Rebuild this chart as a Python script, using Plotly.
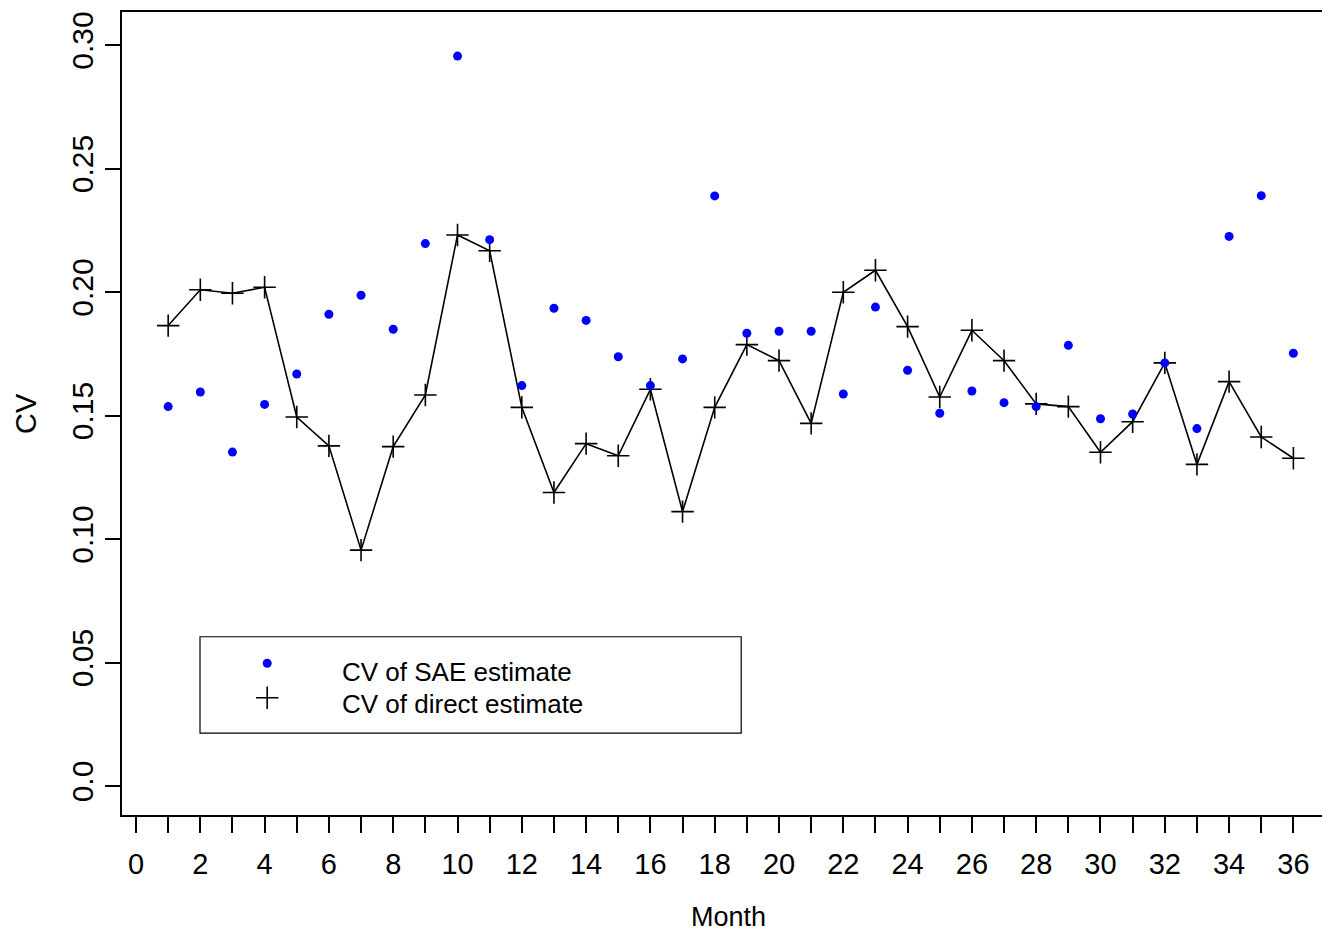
import plotly.graph_objects as go

# Monthly coefficient of variation for the two estimators
months = list(range(1, 37))
sae_cv = [0.1536, 0.1595, 0.1352, 0.1545, 0.1668, 0.1910, 0.1987, 0.1849, 0.2196, 0.2955,
          0.2212, 0.1621, 0.1934, 0.1885, 0.1738, 0.1621, 0.1729, 0.2389, 0.1833, 0.1841,
          0.1841, 0.1587, 0.1939, 0.1683, 0.1509, 0.1599, 0.1552, 0.1536, 0.1784, 0.1487,
          0.1506, 0.1713, 0.1447, 0.2225, 0.2390, 0.1752]
direct_cv = [0.1864, 0.2009, 0.1995, 0.2019, 0.1494, 0.1377, 0.0955, 0.1374, 0.1583, 0.2231,
             0.2167, 0.1533, 0.1188, 0.1386, 0.1337, 0.1606, 0.1111, 0.1533, 0.1787, 0.1722,
             0.1468, 0.1999, 0.2088, 0.1860, 0.1575, 0.1845, 0.1722, 0.1547, 0.1536, 0.1351,
             0.1475, 0.1713, 0.1302, 0.1637, 0.1413, 0.1327]

x_ticks = list(range(0, 37))
x_ticktext = [str(v) if v % 2 == 0 else "" for v in x_ticks]
y_ticks = [0.0, 0.05, 0.10, 0.15, 0.20, 0.25, 0.30]
y_ticktext = ["0.0", "0.05", "0.10", "0.15", "0.20", "0.25", "0.30"]
legend_labels = ["CV of SAE estimate", "CV of direct estimate"]
x_title = "Month"
y_title = "CV"

FONT = "Liberation Sans, Arial, sans-serif"
BLUE = "#0000FF"

dot_marker = dict(symbol="circle", size=9, color=BLUE, line=dict(width=0))
cross_marker = dict(symbol="cross-thin", size=16, color="black", line=dict(width=1.6, color="black"))

fig = go.Figure()

fig.add_trace(go.Scatter(
    x=months, y=direct_cv, mode="lines+markers",
    line=dict(color="black", width=1.6),
    marker=cross_marker, name=legend_labels[1], showlegend=False,
))
fig.add_trace(go.Scatter(
    x=months, y=sae_cv, mode="markers",
    marker=dot_marker, name=legend_labels[0], showlegend=False,
))

# Boxed key drawn inside the plot area (overlay axes span the plot area 0..1)
key_x = 0.121
key_y = [0.189, 0.146]
fig.add_trace(go.Scatter(x=[key_x], y=[key_y[0]], mode="markers", marker=dot_marker,
                         xaxis="x2", yaxis="y2", showlegend=False, hoverinfo="skip"))
fig.add_trace(go.Scatter(x=[key_x], y=[key_y[1]], mode="markers", marker=cross_marker,
                         xaxis="x2", yaxis="y2", showlegend=False, hoverinfo="skip"))

fig.add_shape(type="rect", xref="paper", yref="paper",
              x0=0.065, x1=0.516, y0=0.102, y1=0.222,
              line=dict(color="black", width=1.2), fillcolor="rgba(0,0,0,0)")
for label, ty in zip(legend_labels, [0.178, 0.138]):
    fig.add_annotation(x=0.1817, y=ty, xref="paper", yref="paper", text=label,
                       showarrow=False, xanchor="left", yanchor="middle",
                       font=dict(family=FONT, size=26, color="black"))

# Axis titles
fig.add_annotation(x=0.505, y=-0.1482, xref="paper", yref="paper", text=x_title,
                   showarrow=False, xanchor="center", yanchor="bottom",
                   font=dict(family=FONT, size=27, color="black"))
fig.add_annotation(x=-0.0805, y=0.5, xref="paper", yref="paper", text=y_title,
                   showarrow=False, xanchor="center", yanchor="middle", textangle=-90,
                   font=dict(family=FONT, size=29, color="black"))

fig.update_layout(
    width=1322, height=935,
    margin=dict(l=122, r=0, t=12, b=120),
    paper_bgcolor="white", plot_bgcolor="white",
    font=dict(family=FONT, size=26, color="black"),
    showlegend=False,
    xaxis=dict(
        range=[-0.436, 36.89], tickmode="array", tickvals=x_ticks, ticktext=x_ticktext,
        ticks="outside", ticklen=16, tickwidth=1.5, tickcolor="black",
        showline=True, linecolor="black", linewidth=2, mirror=True,
        showgrid=False, zeroline=False,
        tickfont=dict(family=FONT, size=29),
        ticklabelstandoff=6,
    ),
    yaxis=dict(
        range=[-0.01174, 0.31336], tickmode="array", tickvals=y_ticks, ticktext=y_ticktext,
        ticks="outside", ticklen=15, tickwidth=1.5, tickcolor="black", tickangle=-90,
        showline=True, linecolor="black", linewidth=2, mirror=False,
        showgrid=False, zeroline=False,
        tickfont=dict(family=FONT, size=30),
    ),
    xaxis2=dict(range=[0, 1], overlaying="x", visible=False, fixedrange=True),
    yaxis2=dict(range=[0, 1], overlaying="y", visible=False, fixedrange=True),
)

fig.write_html("out.html")
